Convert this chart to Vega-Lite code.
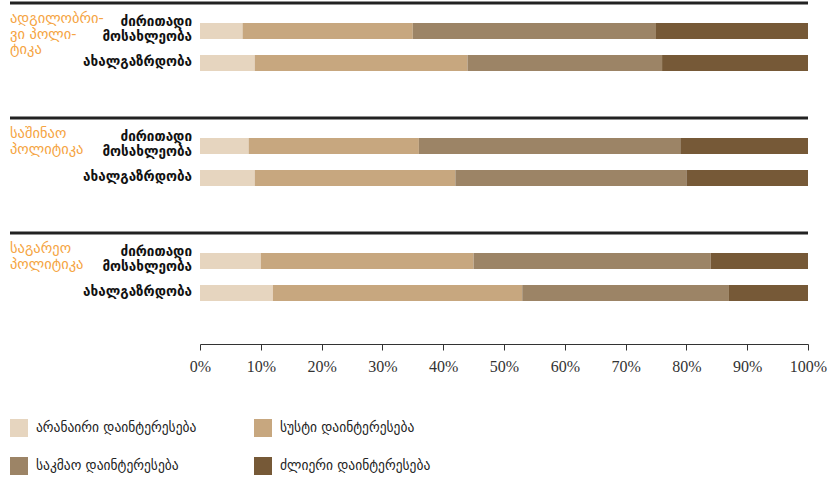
{
  "$schema": "https://vega.github.io/schema/vega-lite/v6.json",
  "padding": {"left": 8, "top": 1, "right": 5, "bottom": 5},
  "background": "white",
  "bounds": "flush",
  "data": {"values": [
    {"group": "ადგილობრი-\nვი პოლი-\nტიკა", "population": "ძირითადი\nმოსახლეობა", "interest": "არანაირი დაინტერესება", "value": 7},
    {"group": "ადგილობრი-\nვი პოლი-\nტიკა", "population": "ძირითადი\nმოსახლეობა", "interest": "სუსტი დაინტერესება", "value": 28},
    {"group": "ადგილობრი-\nვი პოლი-\nტიკა", "population": "ძირითადი\nმოსახლეობა", "interest": "საკმაო დაინტერესება", "value": 40},
    {"group": "ადგილობრი-\nვი პოლი-\nტიკა", "population": "ძირითადი\nმოსახლეობა", "interest": "ძლიერი დაინტერესება", "value": 25},
    {"group": "ადგილობრი-\nვი პოლი-\nტიკა", "population": "ახალგაზრდობა", "interest": "არანაირი დაინტერესება", "value": 9},
    {"group": "ადგილობრი-\nვი პოლი-\nტიკა", "population": "ახალგაზრდობა", "interest": "სუსტი დაინტერესება", "value": 35},
    {"group": "ადგილობრი-\nვი პოლი-\nტიკა", "population": "ახალგაზრდობა", "interest": "საკმაო დაინტერესება", "value": 32},
    {"group": "ადგილობრი-\nვი პოლი-\nტიკა", "population": "ახალგაზრდობა", "interest": "ძლიერი დაინტერესება", "value": 24},
    {"group": "საშინაო\nპოლიტიკა", "population": "ძირითადი\nმოსახლეობა", "interest": "არანაირი დაინტერესება", "value": 8},
    {"group": "საშინაო\nპოლიტიკა", "population": "ძირითადი\nმოსახლეობა", "interest": "სუსტი დაინტერესება", "value": 28},
    {"group": "საშინაო\nპოლიტიკა", "population": "ძირითადი\nმოსახლეობა", "interest": "საკმაო დაინტერესება", "value": 43},
    {"group": "საშინაო\nპოლიტიკა", "population": "ძირითადი\nმოსახლეობა", "interest": "ძლიერი დაინტერესება", "value": 21},
    {"group": "საშინაო\nპოლიტიკა", "population": "ახალგაზრდობა", "interest": "არანაირი დაინტერესება", "value": 9},
    {"group": "საშინაო\nპოლიტიკა", "population": "ახალგაზრდობა", "interest": "სუსტი დაინტერესება", "value": 33},
    {"group": "საშინაო\nპოლიტიკა", "population": "ახალგაზრდობა", "interest": "საკმაო დაინტერესება", "value": 38},
    {"group": "საშინაო\nპოლიტიკა", "population": "ახალგაზრდობა", "interest": "ძლიერი დაინტერესება", "value": 20},
    {"group": "საგარეო\nპოლიტიკა", "population": "ძირითადი\nმოსახლეობა", "interest": "არანაირი დაინტერესება", "value": 10},
    {"group": "საგარეო\nპოლიტიკა", "population": "ძირითადი\nმოსახლეობა", "interest": "სუსტი დაინტერესება", "value": 35},
    {"group": "საგარეო\nპოლიტიკა", "population": "ძირითადი\nმოსახლეობა", "interest": "საკმაო დაინტერესება", "value": 39},
    {"group": "საგარეო\nპოლიტიკა", "population": "ძირითადი\nმოსახლეობა", "interest": "ძლიერი დაინტერესება", "value": 16},
    {"group": "საგარეო\nპოლიტიკა", "population": "ახალგაზრდობა", "interest": "არანაირი დაინტერესება", "value": 12},
    {"group": "საგარეო\nპოლიტიკა", "population": "ახალგაზრდობა", "interest": "სუსტი დაინტერესება", "value": 41},
    {"group": "საგარეო\nპოლიტიკა", "population": "ახალგაზრდობა", "interest": "საკმაო დაინტერესება", "value": 34},
    {"group": "საგარეო\nპოლიტიკა", "population": "ახალგაზრდობა", "interest": "ძლიერი დაინტერესება", "value": 13}
  ]},
  "facet": {
    "row": {"field": "group", "type": "nominal", "sort": ["ადგილობრი-\nვი პოლი-\nტიკა", "საშინაო\nპოლიტიკა", "საგარეო\nპოლიტიკა"], "header": null}
  },
  "spacing": 27,
  "spec": {
    "width": 608,
    "height": 88,
    "layer": [
      {
        "transform": [{"calculate": "indexof(['არანაირი დაინტერესება','სუსტი დაინტერესება','საკმაო დაინტერესება','ძლიერი დაინტერესება'], datum.interest)", "as": "interestOrder"}],
        "mark": {"type": "bar"},
        "encoding": {
          "y": {"field": "population", "type": "nominal", "sort": ["ძირითადი\nმოსახლეობა", "ახალგაზრდობა"], "scale": {"paddingInner": 0.5, "paddingOuter": 0.625}, "axis": null},
          "x": {"field": "value", "type": "quantitative", "stack": "normalize", "scale": {"domain": [0, 1]},
            "axis": {"values": [0, 0.1, 0.2, 0.3, 0.4, 0.5, 0.6, 0.7, 0.8, 0.9, 1], "format": ".0%", "title": null, "grid": false, "offset": 23, "domainColor": "#333333", "tickColor": "#333333", "tickSize": 6, "labelFont": "Liberation Serif", "labelFontSize": 16, "labelColor": "#333333", "labelPadding": 8, "labelFlush": false}},
          "order": {"field": "interestOrder", "type": "quantitative", "sort": "ascending"},
          "color": {"field": "interest", "type": "nominal",
            "scale": {"domain": ["არანაირი დაინტერესება", "სუსტი დაინტერესება", "საკმაო დაინტერესება", "ძლიერი დაინტერესება"], "range": ["#e6d5bf", "#c7a77f", "#9c8466", "#765937"]},
            "legend": {"orient": "none", "legendX": -190, "legendY": 416, "columns": 2, "direction": "horizontal", "title": null, "symbolType": "square", "symbolSize": 324, "symbolStrokeWidth": 0, "symbolOpacity": 1, "labelFont": "DejaVu Sans", "labelFontSize": 13.5, "labelColor": "#222222", "labelOffset": 8, "rowPadding": 20, "columnPadding": 57, "labelLimit": 300}}
        }
      },
      {
        "transform": [{"filter": "datum.interest == 'არანაირი დაინტერესება' && datum.population != 'ახალგაზრდობა'"}],
        "mark": {"type": "text", "align": "right", "baseline": "middle", "lineBreak": "\n", "dx": -8, "dy": -9, "font": "DejaVu Sans", "fontSize": 13.5, "fontWeight": "bold", "lineHeight": 15, "color": "#111111"},
        "encoding": {
          "y": {"field": "population", "type": "nominal", "sort": ["ძირითადი\nმოსახლეობა", "ახალგაზრდობა"]},
          "x": {"datum": 0},
          "text": {"field": "population"}
        }
      },
      {
        "transform": [{"filter": "datum.interest == 'არანაირი დაინტერესება' && datum.population == 'ახალგაზრდობა'"}],
        "mark": {"type": "text", "align": "right", "baseline": "middle", "dx": -8, "dy": -1, "font": "DejaVu Sans", "fontSize": 13.5, "fontWeight": "bold", "color": "#111111"},
        "encoding": {
          "y": {"field": "population", "type": "nominal", "sort": ["ძირითადი\nმოსახლეობა", "ახალგაზრდობა"]},
          "x": {"datum": 0},
          "text": {"field": "population"}
        }
      },
      {
        "transform": [{"filter": "datum.interest == 'არანაირი დაინტერესება' && datum.population == 'ახალგაზრდობა'"}],
        "mark": {"type": "text", "align": "left", "baseline": "top", "lineBreak": "\n", "dy": -51, "font": "DejaVu Sans", "fontSize": 14.5, "lineHeight": 15.5, "color": "#f5a442"},
        "encoding": {
          "y": {"field": "population", "type": "nominal", "sort": ["ძირითადი\nმოსახლეობა", "ახალგაზრდობა"]},
          "x": {"datum": -0.3125},
          "text": {"field": "group"}
        }
      },
      {
        "transform": [{"filter": "datum.interest == 'არანაირი დაინტერესება' && datum.population != 'ახალგაზრდობა'"}],
        "mark": {"type": "rule", "strokeWidth": 3, "color": "#222222", "yOffset": -20},
        "encoding": {
          "y": {"field": "population", "type": "nominal", "sort": ["ძირითადი\nმოსახლეობა", "ახალგაზრდობა"], "bandPosition": 0},
          "x": {"datum": -0.3125},
          "x2": {"datum": 1}
        }
      }
    ]
  },
  "config": {"view": {"stroke": null}}
}
